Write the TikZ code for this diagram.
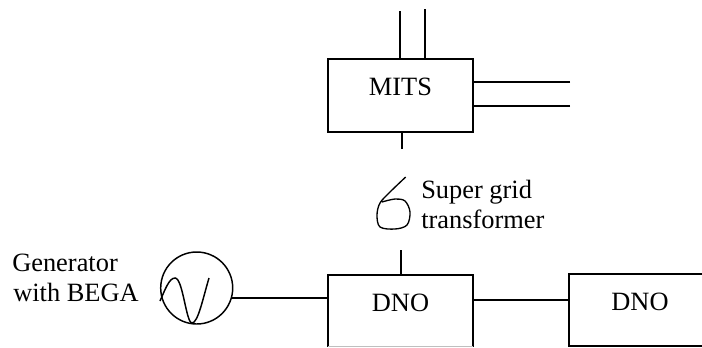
\documentclass[tikz,border=0pt]{standalone}
\usepackage{fontspec}
\setmainfont{Liberation Serif}
\usetikzlibrary{calc}

\begin{document}
\begin{tikzpicture}[
  x=0.75pt, y=-0.75pt,
  font=\fontsize{19.8pt}{23pt}\selectfont,
  wire/.style={draw=black, line width=1.4pt},
  blk/.style={inner sep=0pt, minimum width=108.75pt, text height=27pt, text depth=26.5pt, anchor=base},
  lbl/.style={inner sep=0pt, anchor=base west},
  gensym/.style={draw=black, line width=1.1pt, circle, inner sep=0pt, minimum size=54pt}
]
\useasboundingbox (0,0) rectangle (702,347);

% ---- main blocks
\node[blk, draw=black, line width=1.4pt, text depth=27.75pt] (mits) at (400.5,95) {MITS};
\node[blk] (dno1) at (400.5,311) {DNO};
\node[blk, minimum width=106.5pt] (dno2) at (640,310.5) {DNO};
\node[gensym] (gen) at (196.7,288) {};

% ---- free ends of the connectors
\coordinate (top1) at (400,11);
\coordinate (top2) at (425,9);
\coordinate (east1) at (570,82);
\coordinate (east2) at (570,106);
\coordinate (stub1) at (402,149);
\coordinate (stub2) at (401,250);
\coordinate (edge) at (702,310);

% ---- labels
\node[lbl] (sg1) at (421,198) {Super grid};
\node[lbl] (sg2) at (421,228) {transformer};
\node[lbl] (ga1) at (12,271) {Generator};
\node[lbl] (ga2) at (13,301) {with BEGA};

% ---- open outlines of the two DNO blocks
\draw[wire] (dno1.south west) -- (dno1.north west) -- (dno1.north east) -- (dno1.south east);
\draw[black!25, line width=0.8pt] (dno1.south west) -- (dno1.south east);
\draw[wire] (edge |- dno2.north) -- (dno2.north west) -- (dno2.south west) -- (edge |- dno2.south);

% ---- connectors
\draw[wire] (top1) -- (top1 |- mits.north);
\draw[wire] (top2) -- (top2 |- mits.north);
\draw[wire] (east1) -- (east1 -| mits.east);
\draw[wire] (east2) -- (east2 -| mits.east);
\draw[wire] (stub1) -- (stub1 |- mits.south);
\draw[wire] (stub2) -- (stub2 |- dno1.north);
\draw[wire] (gen.-16) -- (gen.-16 -| dno1.west);
\draw[wire] ([yshift=7.9pt]dno1.east) -- ([yshift=7.9pt]dno1.east -| dno2.west);

% ---- sine wave in the generator
\draw[line width=1.1pt] (160,301) .. controls (165,290) and (169,278) .. (175,278)
  .. controls (183,278) and (186,323) .. (192,323)
  .. controls (198,323) and (203,298) .. (209,278);

% ---- hand drawn transformer symbol
\draw[line width=1pt] plot[smooth, tension=0.55] coordinates {(405.7,177) (390,192) (380,203) (377,215) (380,227)
  (395,229) (407,225) (410,212) (405,201) (395,199) (382,202)};
\end{tikzpicture}
\end{document}
